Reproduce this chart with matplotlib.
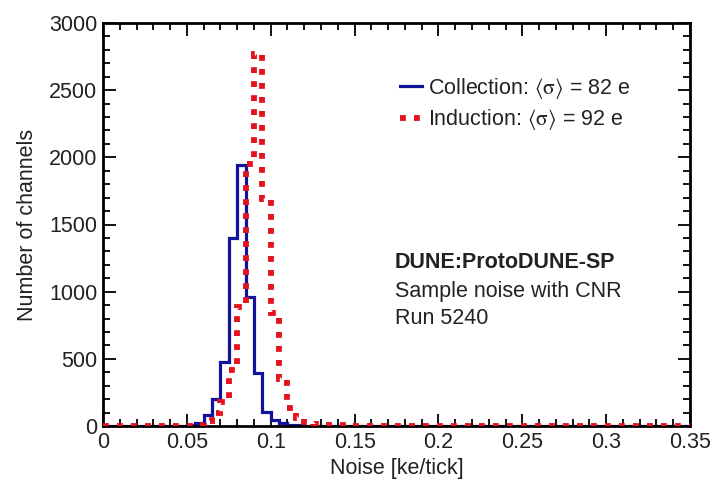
import numpy as np
import matplotlib
matplotlib.use("Agg")
import matplotlib.pyplot as plt
from matplotlib.ticker import MultipleLocator, FormatStrFormatter

plt.rcParams["font.family"] = ["Liberation Sans", "DejaVu Sans"]
plt.rcParams["mathtext.fontset"] = "stix"

# histogram binning: 70 bins of 0.005 ke/tick between 0 and 0.35
edges = np.linspace(0.0, 0.35, 71)

# channel counts per bin (bins from 0.045 upwards, rest zero)
collection_nonzero = [3, 8, 20, 82, 198, 478, 1396, 1942, 962, 392, 107, 45, 22, 10, 5, 3, 2]
induction_nonzero = [0, 3, 10, 35, 100, 180, 420, 888, 1950, 2770, 1689, 840, 350, 135,
                     60, 32, 18, 10, 6, 4, 3, 2, 1]
first_bin = 9  # bin starting at 0.045

collection = np.zeros(70)
collection[first_bin:first_bin + len(collection_nonzero)] = collection_nonzero
induction = np.zeros(70)
induction[first_bin:first_bin + len(induction_nonzero)] = induction_nonzero

labels = [r"Collection: $\langle\mathrm{\sigma}\rangle$ = 82 e",
          r"Induction: $\langle\mathrm{\sigma}\rangle$ = 92 e"]
info_lines = ["DUNE:ProtoDUNE-SP", "Sample noise with CNR", "Run 5240"]

W, H = 714, 484
fig = plt.figure(figsize=(W / 100, H / 100), dpi=100)
ax = fig.add_axes([103 / W, 1 - 426 / H, (690 - 103) / W, (426 - 23) / H])

blue = "#12129a"
red = "#e3121c"
txt_col = "#222222"
ax.stairs(collection, edges, color=blue, linewidth=2.3, label=labels[0], zorder=2)
ax.stairs(induction, edges, color=red, linewidth=4.2, linestyle=(0, (1.0, 1.4)),
          label=labels[1], zorder=3)

ax.set_xlim(0, 0.35)
ax.set_ylim(0, 3000)
ax.xaxis.set_major_locator(MultipleLocator(0.05))
ax.xaxis.set_minor_locator(MultipleLocator(0.01))
ax.xaxis.set_major_formatter(FormatStrFormatter("%g"))
ax.yaxis.set_major_locator(MultipleLocator(500))
ax.yaxis.set_minor_locator(MultipleLocator(100))

fs = 15.5
ax.tick_params(which="both", direction="in", top=True, right=True, width=1.3,
               labelsize=fs, pad=4, labelcolor=txt_col)
ax.tick_params(which="major", length=9)
ax.tick_params(which="minor", length=5)
for s in ax.spines.values():
    s.set_linewidth(2.0)

ax.set_xlabel("Noise [ke/tick]", fontsize=fs, labelpad=4, color=txt_col)
ax.set_ylabel("Number of channels", fontsize=fs, labelpad=8, color=txt_col)

leg = ax.legend(loc="upper left", bbox_to_anchor=(400 / W, 1 - 76 / H),
                bbox_transform=fig.transFigure, frameon=False, fontsize=fs,
                handlelength=1.0, handletextpad=0.3, borderpad=0,
                borderaxespad=0, labelspacing=0.3, labelcolor=txt_col)

ys = [263, 291, 318]
for txt, y in zip(info_lines, ys):
    fig.text(395 / W, 1 - y / H, txt, fontsize=fs, va="center", ha="left",
             color=txt_col,
             fontweight="bold" if txt.startswith("DUNE") else "normal")

fig.savefig("out.png", dpi=100)
